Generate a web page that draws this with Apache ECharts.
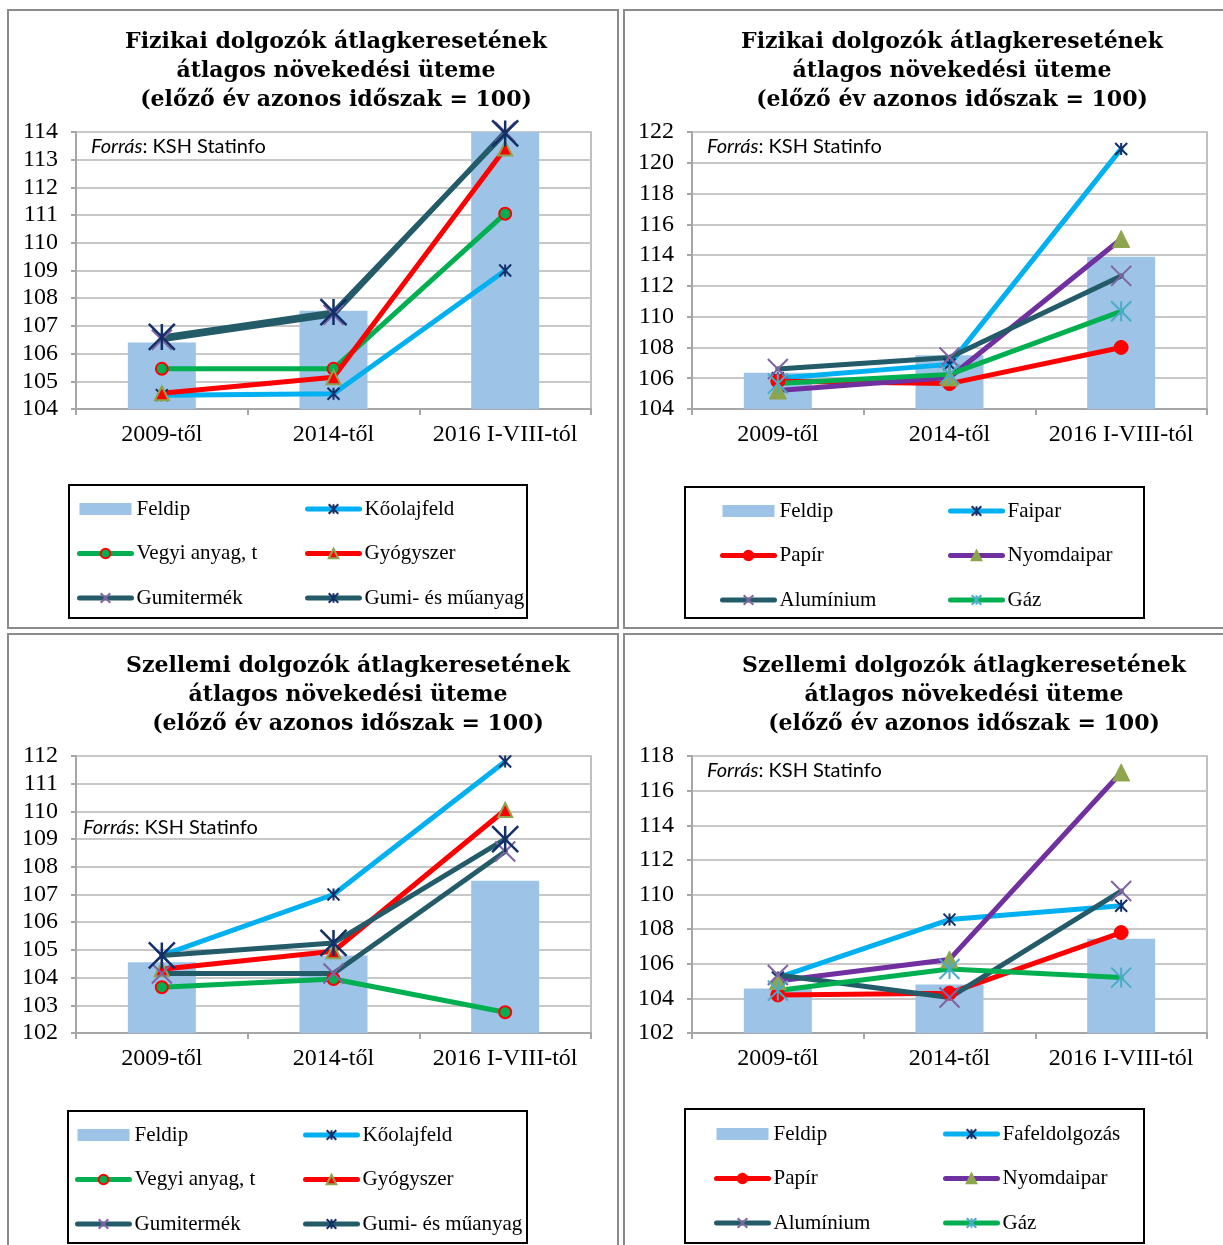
<!DOCTYPE html>
<html>
<head>
<meta charset="utf-8">
<script src="https://cdn.jsdelivr.net/npm/echarts@6/dist/echarts.min.js"></script>
<style>
    body { margin: 0; background: #fff; width: 1223px; height: 1245px; overflow: hidden; position: relative; }
    .panel { position: absolute; width: 608px; height: 616px; border: 2px solid #8a8a8a; }
</style>
</head>
<body>
<div id="p1" class="panel" style="left:7px;top:9px"></div>
<div id="p2" class="panel" style="left:623px;top:9px"></div>
<div id="p3" class="panel" style="left:7px;top:633px"></div>
<div id="p4" class="panel" style="left:623px;top:633px"></div>
<script>
// kategóriák
var categories = ['2009-től', '2014-től', '2016 I-VIII-tól'];

// Fizikai dolgozók - bal
var feldip1 = [106.4, 107.55, 114.0];
var koolaj1 = [104.5, 104.55, 109.0];
var vegyi1 = [105.45, 105.45, 111.05];
var gyogy1 = [104.57, 105.15, 113.4];
var gumiterm1 = [106.5, 107.4, 114.0];
var gumimu1 = [106.6, 107.5, 113.95];

// Fizikai dolgozók - jobb
var feldip2 = [106.35, 107.5, 113.9];
var faipar2 = [106.0, 106.9, 120.9];
var papir2 = [105.8, 105.65, 108.0];
var nyomda2 = [105.2, 106.05, 115.05];
var alum2 = [106.6, 107.35, 112.65];
var gaz2 = [105.65, 106.25, 110.35];

// Szellemi dolgozók - bal
var feldip3 = [104.55, 104.8, 107.5];
var koolaj3 = [104.8, 107.0, 111.8];
var vegyi3 = [103.65, 103.95, 102.75];
var gyogy3 = [104.3, 104.95, 110.05];
var gumiterm3 = [104.15, 104.15, 108.55];
var gumimu3 = [104.8, 105.25, 109.0];

// Szellemi dolgozók - jobb
var feldip4 = [104.57, 104.8, 107.45];
var fafeld4 = [105.2, 108.55, 109.35];
var papir4 = [104.2, 104.3, 107.8];
var nyomda4 = [105.0, 106.25, 117.05];
var alum4 = [105.35, 104.05, 110.2];
var gaz4 = [104.45, 105.7, 105.2];

var titleFizikai = 'Fizikai dolgozók átlagkeresetének\nátlagos növekedési üteme\n(előző év azonos időszak = 100)';
var titleSzellemi = 'Szellemi dolgozók átlagkeresetének\nátlagos növekedési üteme\n(előző év azonos időszak = 100)';

var NAVY = '#132f6a';
var STAR = 'path://M0 0L10 10M10 0L0 10M5 0L5 10';
var CROSS = 'path://M0 0L10 10M10 0L0 10';
var SERIF = 'Liberation Serif';

function barSeries(name, data) {
    return {
        name: name, type: 'bar', data: data, barWidth: 68, z: 1,
        itemStyle: { color: '#9dc3e6' }
    };
}

function lineSeries(name, data, lineColor, symbol, size, fill, border, bw) {
    return {
        name: name, type: 'line', data: data, z: 3,
        symbol: symbol, symbolSize: size,
        lineStyle: { color: lineColor, width: 5, cap: 'round', join: 'round' },
        itemStyle: { color: fill, borderColor: border, borderWidth: bw }
    };
}

function loadPanel(domId, cfg) {
    var chart = echarts.init(document.getElementById(domId));
    var legendText = { fontFamily: SERIF, fontSize: 21, color: '#000', lineHeight: 24 };
    var names = cfg.series.map(function (s) { return s.name; });
    var col1 = [{ name: names[0], icon: 'rect' }, names[2], names[4]];
    var col2 = [names[1], names[3], names[5]];
    var legendBase = {
        orient: 'vertical', top: cfg.legY, padding: 0,
        itemWidth: 52, itemHeight: 12, itemGap: 20.5, selectedMode: false,
        textStyle: legendText,
        lineStyle: { width: 5, cap: 'round' }
    };

    var option = {
        animation: false,
        title: {
            text: cfg.title,
            left: cfg.titleX,
            top: 12,
            textAlign: 'center',
            textStyle: {
                fontFamily: 'DejaVu Serif',
                fontWeight: 'bold',
                fontSize: 22,
                lineHeight: 29,
                color: '#000'
            }
        },
        grid: {
            left: 67, top: 121, width: 515, height: 277,
            show: true, borderColor: '#bfbfbf', borderWidth: 2
        },
        xAxis: {
            type: 'category',
            data: categories,
            axisLine: { lineStyle: { color: '#a6a6a6', width: 2 } },
            axisTick: { show: true, length: 6, lineStyle: { color: '#a6a6a6', width: 2 } },
            axisLabel: { interval: 0, margin: 14, color: '#000', fontFamily: SERIF, fontSize: 24 }
        },
        yAxis: {
            type: 'value',
            min: cfg.min, max: cfg.max, interval: cfg.step,
            axisLine: { show: true, lineStyle: { color: '#a6a6a6', width: 2 } },
            axisTick: { show: true, length: 5, lineStyle: { color: '#a6a6a6', width: 2 } },
            splitLine: { lineStyle: { color: '#c8c8c8', width: 2 } },
            axisLabel: { margin: 18, color: '#000', fontFamily: SERIF, fontSize: 24 }
        },
        legend: [
            Object.assign({ left: cfg.legX1, data: col1 }, legendBase),
            Object.assign({ left: cfg.legX2, data: col2 }, legendBase)
        ],
        graphic: [{
            type: 'rect',
            shape: cfg.box,
            style: { fill: 'none', stroke: '#000', lineWidth: 2 }
        }, {
            type: 'text',
            left: cfg.srcX, top: cfg.srcY,
            style: {
                text: '{i|Forrás}: KSH Statinfo',
                fontFamily: 'Lato', fontSize: 20, fill: '#000',
                rich: { i: { fontStyle: 'italic', fontFamily: 'Lato', fontSize: 20 } }
            }
        }],
        series: cfg.series
    };
    chart.setOption(option);
}

loadPanel('p1', {
    title: titleFizikai, titleX: 322, min: 104, max: 114, step: 1,
    srcX: 82, srcY: 126,
    legX1: 68, legX2: 296, legY: 486,
    box: { x: 60, y: 474, width: 458, height: 133 },
    series: [
        barSeries('Feldip', feldip1),
        lineSeries('Kőolajfeld', koolaj1, '#00b0f0', STAR, 12, NAVY, NAVY, 2),
        lineSeries('Vegyi anyag, t', vegyi1, '#00b050', 'circle', 12, '#00b050', '#ff0000', 2),
        lineSeries('Gyógyszer', gyogy1, '#ff0000', 'triangle', 14, '#ff0000', '#8ea54e', 2),
        lineSeries('Gumitermék', gumiterm1, '#235b69', CROSS, 20, '#8064a2', '#8064a2', 2),
        lineSeries('Gumi- és műanyag', gumimu1, '#235b69', STAR, 26, NAVY, NAVY, 2.5)
    ]
});

loadPanel('p2', {
    title: titleFizikai, titleX: 322, min: 104, max: 122, step: 2,
    srcX: 82, srcY: 126,
    legX1: 95, legX2: 323, legY: 488,
    box: { x: 60, y: 476, width: 459, height: 131 },
    series: [
        barSeries('Feldip', feldip2),
        lineSeries('Faipar', faipar2, '#00b0f0', STAR, 12, NAVY, NAVY, 2),
        lineSeries('Papír', papir2, '#ff0000', 'circle', 14, '#ff0000', '#ff0000', 1),
        lineSeries('Nyomdaipar', nyomda2, '#7030a0', 'triangle', 17, '#8ea54e', '#8ea54e', 1),
        lineSeries('Alumínium', alum2, '#235b69', CROSS, 20, '#8064a2', '#8064a2', 2),
        lineSeries('Gáz', gaz2, '#00b050', STAR, 20, '#4bacc6', '#4bacc6', 2)
    ]
});

loadPanel('p3', {
    title: titleSzellemi, titleX: 334, min: 102, max: 112, step: 1,
    srcX: 74, srcY: 183,
    legX1: 66, legX2: 294, legY: 488,
    box: { x: 59, y: 476, width: 459, height: 132 },
    series: [
        barSeries('Feldip', feldip3),
        lineSeries('Kőolajfeld', koolaj3, '#00b0f0', STAR, 12, NAVY, NAVY, 2),
        lineSeries('Vegyi anyag, t', vegyi3, '#00b050', 'circle', 12, '#00b050', '#ff0000', 2),
        lineSeries('Gyógyszer', gyogy3, '#ff0000', 'triangle', 14, '#ff0000', '#8ea54e', 2),
        lineSeries('Gumitermék', gumiterm3, '#235b69', CROSS, 20, '#8064a2', '#8064a2', 2),
        lineSeries('Gumi- és műanyag', gumimu3, '#235b69', STAR, 26, NAVY, NAVY, 2.5)
    ]
});

loadPanel('p4', {
    title: titleSzellemi, titleX: 334, min: 102, max: 118, step: 2,
    srcX: 82, srcY: 126,
    legX1: 89, legX2: 318, legY: 487,
    box: { x: 60, y: 474, width: 459, height: 134 },
    series: [
        barSeries('Feldip', feldip4),
        lineSeries('Fafeldolgozás', fafeld4, '#00b0f0', STAR, 12, NAVY, NAVY, 2),
        lineSeries('Papír', papir4, '#ff0000', 'circle', 14, '#ff0000', '#ff0000', 1),
        lineSeries('Nyomdaipar', nyomda4, '#7030a0', 'triangle', 17, '#8ea54e', '#8ea54e', 1),
        lineSeries('Alumínium', alum4, '#235b69', CROSS, 20, '#8064a2', '#8064a2', 2),
        lineSeries('Gáz', gaz4, '#00b050', STAR, 20, '#4bacc6', '#4bacc6', 2)
    ]
});
</script>
</body>
</html>
